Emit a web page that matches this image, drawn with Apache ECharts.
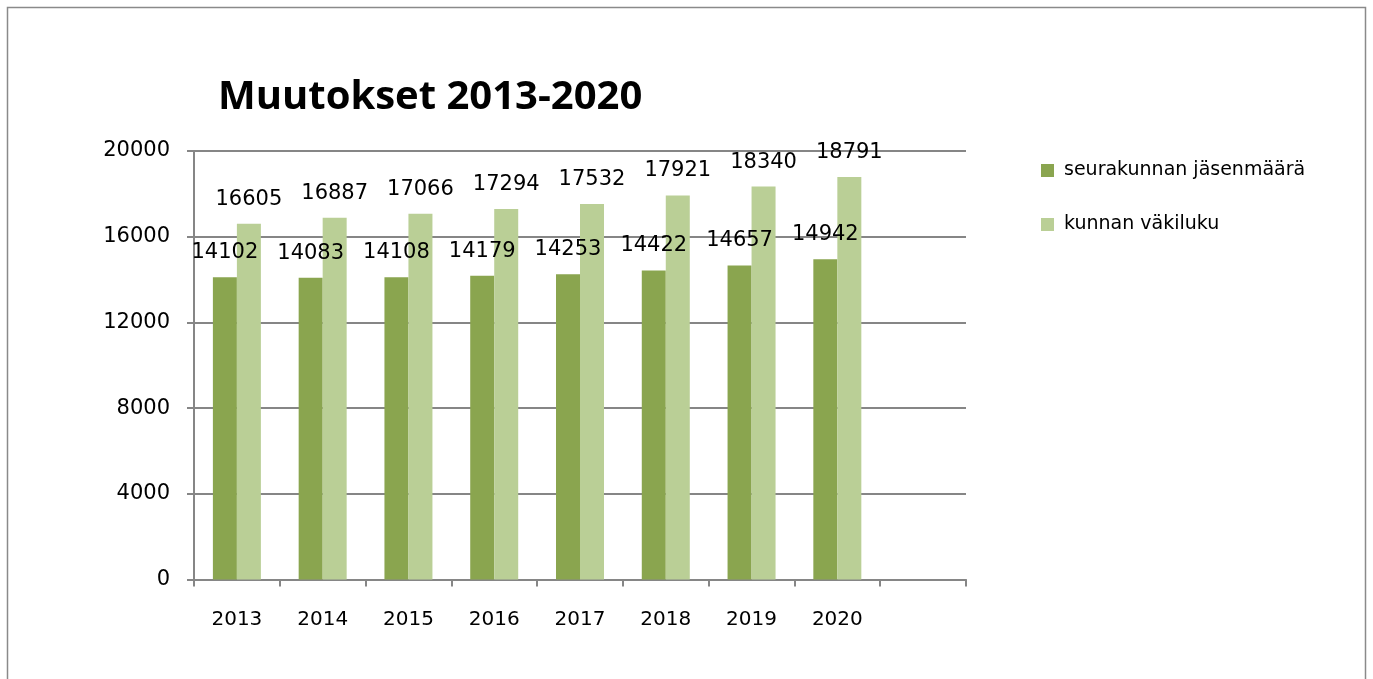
<!DOCTYPE html>
<html>
<head>
<meta charset="utf-8">
<script src="https://cdn.jsdelivr.net/npm/echarts@6/dist/echarts.min.js"></script>
<style>
html,body{margin:0;padding:0;background:#fff;}
#chart{width:1373px;height:679px;}
</style>
</head>
<body>
<div id="chart"></div>
<script>
const categories = ['2013','2014','2015','2016','2017','2018','2019','2020',''];
const seriesNames = ['seurakunnan jäsenmäärä','kunnan väkiluku'];
const jasenmaara = [14102,14083,14108,14179,14253,14422,14657,14942];
const vakiluku = [16605,16887,17066,17294,17532,17921,18340,18791];
const yTicks = {min:0, max:20000, interval:4000};

const chart = echarts.init(document.getElementById('chart'));
const labelStyle = {show:true, position:'top', distance:14, color:'#000', fontFamily:'DejaVu Sans', fontSize:21};
chart.setOption({
  animation:false,
  backgroundColor:'#fff',
  graphic:[{type:'rect', shape:{x:7.5,y:7.5,width:1358,height:720}, style:{fill:'none', stroke:'#8a8a8a', lineWidth:1.5}, silent:true}],
  title:{text:'Muutokset 2013-2020', left:213, top:73, textStyle:{fontFamily:'Open Sans', fontWeight:'bold', fontSize:40, color:'#000'}},
  legend:{orient:'vertical', left:1036, top:156, itemWidth:13, itemHeight:13, itemGap:35, icon:'rect',
    textStyle:{fontFamily:'DejaVu Sans', fontSize:19, color:'#000', padding:[0,0,0,5]}, data:seriesNames},
  grid:{left:194, right:407, top:151, bottom:99.5, containLabel:false},
  xAxis:{type:'category', data:categories, boundaryGap:true,
    axisLine:{lineStyle:{color:'#868686', width:2}},
    axisTick:{show:true, length:7, lineStyle:{color:'#868686', width:2}},
    axisLabel:{color:'#000', fontFamily:'DejaVu Sans', fontSize:20, margin:30}},
  yAxis:{type:'value', min:yTicks.min, max:yTicks.max, interval:yTicks.interval,
    axisLine:{show:true, lineStyle:{color:'#868686', width:2}},
    axisTick:{show:true, length:7, lineStyle:{color:'#868686', width:2}},
    splitLine:{lineStyle:{color:'#868686', width:2}},
    axisLabel:{color:'#000', fontFamily:'DejaVu Sans', fontSize:21, margin:24, formatter:v => String(v)}},
  series:[
    {name:seriesNames[0], type:'bar', data:jasenmaara, barWidth:24, barGap:'0%', itemStyle:{color:'#8aa54f'}, label:labelStyle},
    {name:seriesNames[1], type:'bar', data:vakiluku, barWidth:24, barGap:'0%', itemStyle:{color:'#bacf96'}, label:labelStyle}
  ]
});
</script>
</body>
</html>
